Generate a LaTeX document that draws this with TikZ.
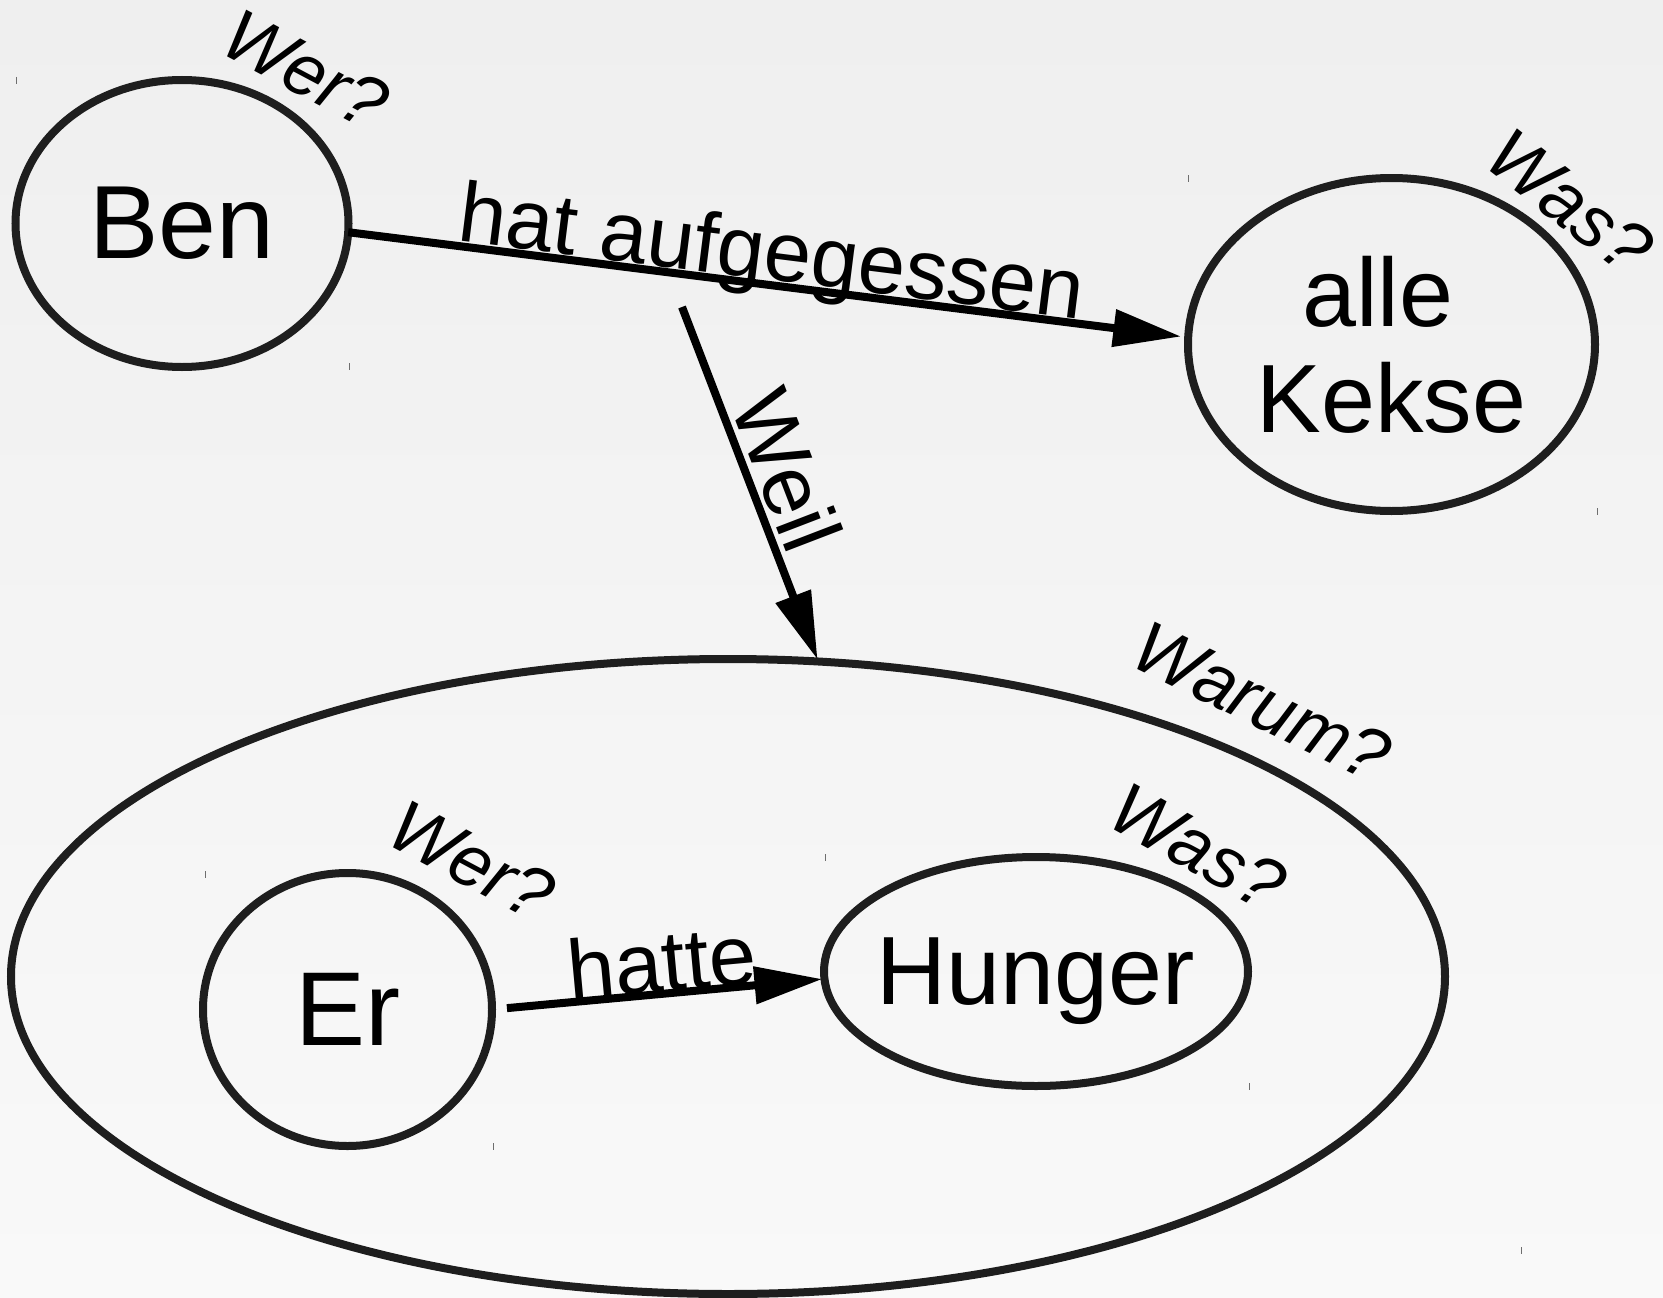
\documentclass[tikz,border=0pt]{standalone}
\usepackage{fontspec}
\setmainfont{Liberation Sans}
\usetikzlibrary{shapes.geometric,arrows.meta}
\definecolor{ellcol}{RGB}{30,30,30}
\definecolor{bgtop}{RGB}{239,239,239}
\definecolor{bgbot}{RGB}{249,249,249}
\definecolor{tickcol}{RGB}{110,110,110}
\tikzset{
  ell/.style={draw=ellcol, line width=8pt, ellipse, inner sep=0pt, outer sep=0pt},
  conn/.style={draw=black, line width=8pt, -{Triangle[length=68pt,width=36pt]}},
  elab/.style={sloped, anchor=base, inner sep=0pt, font=\fontsize{85}{95}\selectfont},
  qlab/.style={inner sep=0pt, font=\fontsize{73}{83}\selectfont\itshape},
  bbtick/.style={draw=tickcol, line width=1pt}
}
\begin{document}
\begin{tikzpicture}[x=1pt,y=-1pt]
\shade[top color=bgtop,bottom color=bgbot] (0,0) rectangle (1663,1298);
\useasboundingbox (0,0) rectangle (1663,1298);

\node[ell, minimum width=333pt, minimum height=287pt, font=\fontsize{104}{114}\selectfont] (ben) at (182,223.5) {Ben};
\node[ell, minimum width=407pt, minimum height=333pt, align=center, font=\fontsize{97}{106}\selectfont] (kekse) at (1391.5,344.5) {alle\hspace*{27pt}\\Kekse};
\node[ell, minimum width=1434pt, minimum height=635pt] (big) at (728,976.5) {};
\node[ell, minimum width=289pt, minimum height=273pt, font=\fontsize{105}{115}\selectfont] (er) at (347.5,1009.5) {Er};
\node[ell, minimum width=424pt, minimum height=229pt, font=\fontsize{97}{107}\selectfont, text depth=0pt] (hunger) at (1036,971.5) {\makebox[0pt]{Hunger}};

\draw[conn, shorten >=7pt] (ben.-3) -- node[elab, pos=0.5, yshift=5pt] {hat aufgegessen} (kekse.178);
\coordinate (weilstart) at (682,307);
\draw[conn, shorten >=2pt] (weilstart) -- node[elab, pos=0.5, yshift=9pt] {Weil} (big.74.2);
\draw[conn, shorten <=15pt, shorten >=2pt] (er.east) -- node[elab, pos=0.52, yshift=2pt] {hatte} (hunger.182);

\node[qlab, rotate=-28] (q1) at (306,70) {Wer?};
\node[qlab, rotate=-38] (q2) at (1570,202) {Was?};
\node[qlab, rotate=-26] (q3) at (1262,702) {Warum?};
\node[qlab, rotate=-28] (q4) at (472,861) {Wer?};
\node[qlab, rotate=-29] (q5) at (1198,847) {Was?};

\foreach \tx/\ty in {16/77, 349/363, 1188/175, 1597/508, 205/871, 493/1143, 825/854, 1249/1083, 1521/1247}
  \draw[bbtick] (\tx,\ty) -- ++(0,7);
\end{tikzpicture}
\end{document}
